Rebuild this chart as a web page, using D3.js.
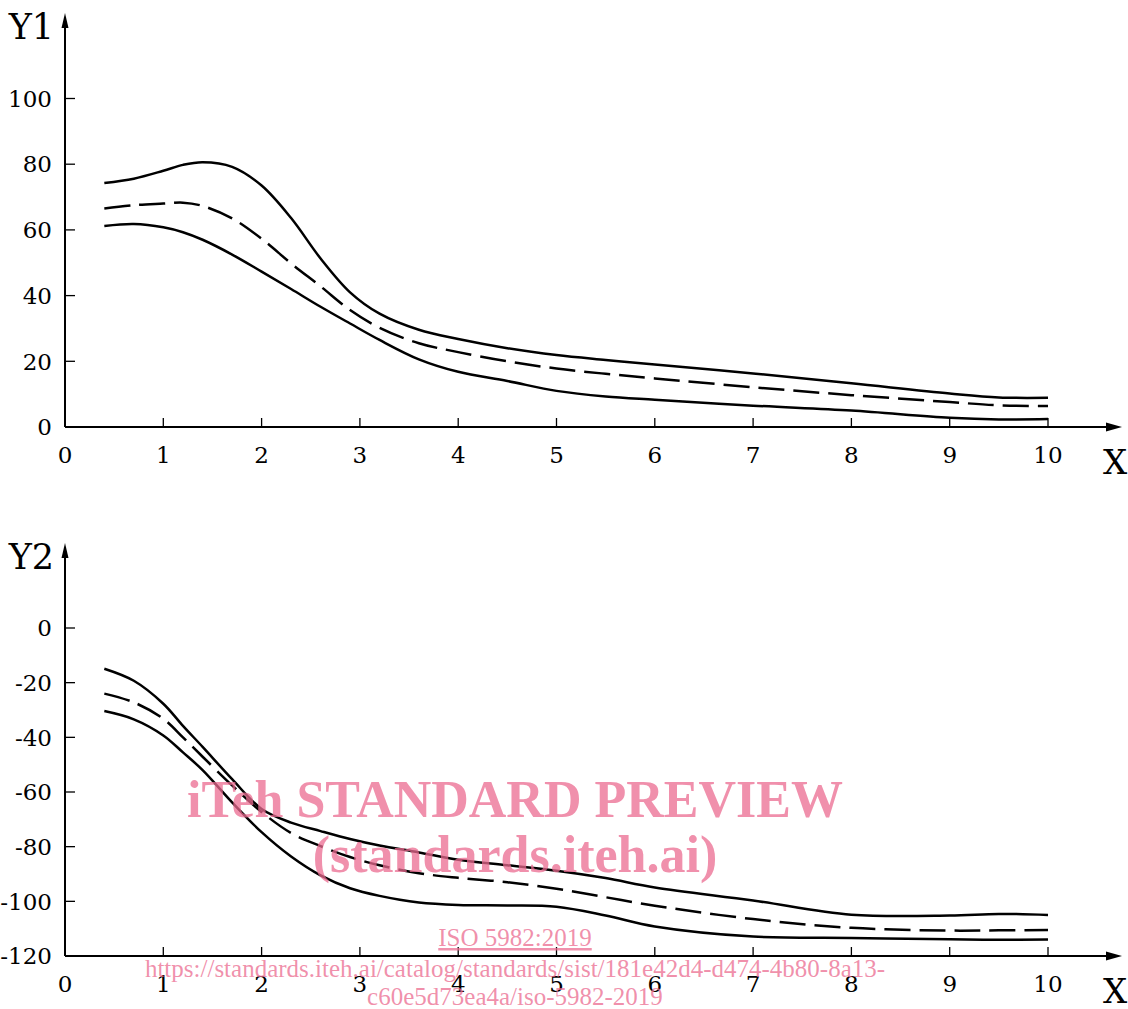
<!DOCTYPE html>
<html>
<head>
<meta charset="utf-8">
<script src="https://cdn.jsdelivr.net/npm/d3@7"></script>
<style>
  body { margin: 0; background: #fff; }
  svg { display: block; }
</style>
</head>
<body>
<div id="mainDiv"></div>
<script>
// shared x positions of the sampled points
var xs = [0.4, 0.7, 1.0, 1.2, 1.4, 1.7, 2.0, 2.3, 2.6, 2.9, 3.2, 3.6, 4.0, 4.5, 5.0, 5.5, 6.0, 7.0, 8.0, 9.0, 9.5, 10];

// Y1 panel
var y1Upper  = [74.3, 75.6, 78.0, 79.8, 80.6, 79.2, 73.5, 63.6, 51.3, 41.0, 34.5, 29.6, 26.8, 24.0, 21.9, 20.4, 19.0, 16.3, 13.3, 10.2, 9.0, 8.9];
var y1Middle = [66.5, 67.5, 68.0, 68.3, 67.3, 63.5, 57.3, 49.8, 42.8, 35.6, 30.2, 25.5, 22.8, 20.0, 17.8, 16.2, 14.8, 12.1, 9.7, 7.6, 6.6, 6.4];
var y1Lower  = [61.2, 61.8, 60.8, 59.3, 57.0, 52.5, 47.3, 42.0, 36.6, 31.5, 26.5, 20.6, 16.8, 14.0, 11.0, 9.3, 8.3, 6.5, 5.0, 2.8, 2.3, 2.4];

// Y2 panel
var y2Upper  = [-14.9, -19.3, -27.7, -35.8, -43.5, -55.3, -66.2, -71.2, -74.3, -77.2, -79.6, -82.1, -84.8, -86.8, -88.8, -91.5, -94.9, -99.7, -104.9, -105.2, -104.6, -105.0];
var y2Middle = [-24.0, -27.2, -33.2, -40.0, -47.1, -57.6, -67.3, -75.0, -79.8, -83.8, -86.8, -89.7, -91.4, -93.0, -95.4, -98.5, -101.6, -106.5, -109.7, -110.7, -110.6, -110.5];
var y2Lower  = [-30.4, -33.4, -39.3, -45.5, -52.0, -63.8, -74.7, -83.6, -90.5, -95.2, -98.0, -100.4, -101.3, -101.5, -102.0, -105.2, -109.2, -112.9, -113.4, -113.9, -114.1, -114.0];

var xTicks = [1, 2, 3, 4, 5, 6, 7, 8, 9, 10];
var xLabels = [0, 1, 2, 3, 4, 5, 6, 7, 8, 9, 10];
var y1Ticks = [20, 40, 60, 80, 100];
var y1Labels = [0, 20, 40, 60, 80, 100];
var y2Ticks = [-100, -80, -60, -40, -20, 0];
var y2Labels = [-120, -100, -80, -60, -40, -20, 0];

var svg = d3.select("#mainDiv").append("svg")
  .attr("width", 1128)
  .attr("height", 1009);

var tickFont = "DejaVu Serif";

function drawPanel(opts) {
  var x = d3.scaleLinear().domain([0, 10]).range([65, 1048]);
  var y = d3.scaleLinear().domain(opts.domain).range(opts.range);
  var g = svg.append("g");
  var x0 = x(0), yBase = y(opts.domain[0]);

  // axes with arrows
  g.append("line")
    .attr("x1", x0).attr("y1", yBase).attr("x2", 1108).attr("y2", yBase)
    .attr("stroke", "#000").attr("stroke-width", 2);
  g.append("path")
    .attr("d", "M1122," + yBase + " L1106," + (yBase - 4.5) + " L1106," + (yBase + 4.5) + " Z")
    .attr("fill", "#000");
  g.append("line")
    .attr("x1", x0).attr("y1", yBase).attr("x2", x0).attr("y2", opts.top + 12)
    .attr("stroke", "#000").attr("stroke-width", 2);
  g.append("path")
    .attr("d", "M" + x0 + "," + opts.top + " L" + (x0 - 3.5) + "," + (opts.top + 15) + " L" + (x0 + 3.5) + "," + (opts.top + 15) + " Z")
    .attr("fill", "#000");

  // ticks
  xTicks.forEach(function(t) {
    g.append("line")
      .attr("x1", x(t)).attr("x2", x(t)).attr("y1", yBase).attr("y2", yBase - 9)
      .attr("stroke", "#000").attr("stroke-width", 1.3);
  });
  opts.yTicks.forEach(function(t) {
    g.append("line")
      .attr("x1", x0).attr("x2", x0 + 10).attr("y1", y(t)).attr("y2", y(t))
      .attr("stroke", "#000").attr("stroke-width", 1.3);
  });

  // tick labels
  xLabels.forEach(function(t) {
    g.append("text")
      .attr("x", x(t)).attr("y", yBase + 28).attr("dy", "0.36em")
      .attr("text-anchor", "middle")
      .attr("font-family", tickFont).attr("font-size", "23px")
      .text(t);
  });
  opts.yLabels.forEach(function(t) {
    g.append("text")
      .attr("x", 52).attr("y", y(t)).attr("dy", "0.36em")
      .attr("text-anchor", "end")
      .attr("font-family", tickFont).attr("font-size", "23px")
      .text(t);
  });

  g.append("text")
    .attr("x", 54).attr("y", opts.top + 26)
    .attr("text-anchor", "end")
    .attr("font-family", tickFont).attr("font-size", "35px")
    .text(opts.title);
  g.append("text")
    .attr("x", 1103).attr("y", yBase + 47)
    .attr("font-family", tickFont).attr("font-size", "34px")
    .text("X");

  var line = d3.line()
    .x(function(d) { return x(d[0]); })
    .y(function(d) { return y(d[1]); })
    .curve(d3.curveCatmullRom.alpha(0.5));

  opts.series.forEach(function(s) {
    g.append("path")
      .datum(xs.map(function(v, i) { return [v, s.values[i]]; }))
      .attr("d", line)
      .attr("fill", "none")
      .attr("stroke", "#000")
      .attr("stroke-width", 2.5)
      .attr("stroke-dasharray", s.dashed ? "26,9" : null);
  });
}

drawPanel({
  domain: [0, 100], range: [427, 98.5], top: 13, title: "Y1",
  yTicks: y1Ticks, yLabels: y1Labels,
  series: [{values: y1Upper}, {values: y1Middle, dashed: true}, {values: y1Lower}]
});

drawPanel({
  domain: [-120, 0], range: [956, 628], top: 543, title: "Y2",
  yTicks: y2Ticks, yLabels: y2Labels,
  series: [{values: y2Upper}, {values: y2Middle, dashed: true}, {values: y2Lower}]
});

// watermark on top
var wm = svg.append("g")
  .attr("fill", "rgb(235,107,144)")
  .attr("fill-opacity", 0.75)
  .attr("font-family", "Liberation Serif")
  .attr("text-anchor", "middle");
wm.append("text")
  .attr("x", 515).attr("y", 817)
  .attr("font-size", "52px").attr("font-weight", "bold")
  .text("iTeh STANDARD PREVIEW");
wm.append("text")
  .attr("x", 515).attr("y", 872)
  .attr("font-size", "52px").attr("font-weight", "bold")
  .text("(standards.iteh.ai)");
wm.append("text")
  .attr("x", 515).attr("y", 946)
  .attr("font-size", "25px")
  .attr("text-decoration", "underline")
  .text("ISO 5982:2019");
wm.append("text")
  .attr("x", 515).attr("y", 977)
  .attr("font-size", "25px")
  .text("https://standards.iteh.ai/catalog/standards/sist/181e42d4-d474-4b80-8a13-");
wm.append("text")
  .attr("x", 515).attr("y", 1005)
  .attr("font-size", "25px")
  .text("c60e5d73ea4a/iso-5982-2019");
</script>
</body>
</html>
